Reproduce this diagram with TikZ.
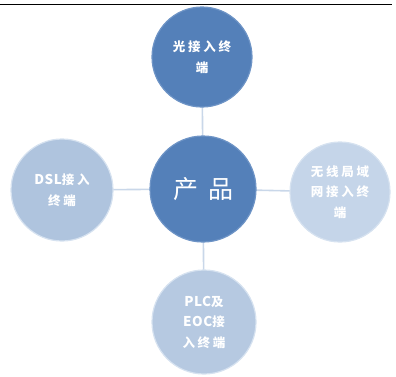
\documentclass[tikz,border=0pt]{standalone}
\usepackage{fontspec}
\newfontfamily\cjk[LetterSpace=22]{Noto Sans CJK SC}
\newfontfamily\lat[LetterSpace=4]{Noto Sans CJK SC}
\newfontfamily\cjkbig[LetterSpace=40]{Noto Sans CJK SC}
\definecolor{darkb}{HTML}{5480B9}
\definecolor{darkrim}{HTML}{6E94C6}
\definecolor{lightL}{HTML}{AFC4DE}
\definecolor{lightB}{HTML}{B6C9E1}
\definecolor{lightR}{HTML}{C5D5E9}
\definecolor{lrim}{HTML}{D6E2F0}
\definecolor{conn}{HTML}{C9D7E9}
\newcommand{\ltx}[1]{{\lat\bfseries\fontsize{13.5}{20.5}\selectfont #1}}
\begin{document}
\begin{tikzpicture}[x=1pt,y=-1pt,
  bub/.style={circle,inner sep=0pt,text=white,align=center,line width=1.2pt},
  darkbub/.style={bub,fill=darkb,draw=darkrim},
  lightbub/.style={bub,draw=lrim},
  lab/.style={font=\cjk\fontsize{12.5}{20.5}\selectfont\bfseries},
  link/.style={draw=conn,line width=1.6pt}]
\useasboundingbox (0,0) rectangle (396,376);
\draw[black,line width=1pt] (0,4) -- (392,4);
\coordinate (cc) at (203,189);
\coordinate (tc) at (202,57);
\coordinate (lc) at (62,190);
\coordinate (rc) at (340,192);
\coordinate (bc) at (204,322);
\draw[link] (cc) -- (tc);
\draw[link] (cc) -- (lc);
\draw[link] (cc) -- (rc);
\draw[link] (cc) -- (bc);
\node[darkbub,minimum size=106pt,font=\cjkbig\fontsize{25}{27}\selectfont] (center) at (cc) {产品};
\node[darkbub,minimum size=100pt,lab] (top) at (tc) {光接入终\\端};
\node[lightbub,fill=lightL,minimum size=102pt,lab] (left) at (lc) {\ltx{DSL}接入\\终端};
\node[lightbub,fill=lightR,minimum size=100pt,lab] (right) at (rc) {无线局域\\网接入终\\端};
\node[lightbub,fill=lightB,minimum size=104pt,lab] (bottom) at (bc) {\ltx{PLC}及\\\ltx{EOC}接\\入终端};
\end{tikzpicture}
\end{document}
